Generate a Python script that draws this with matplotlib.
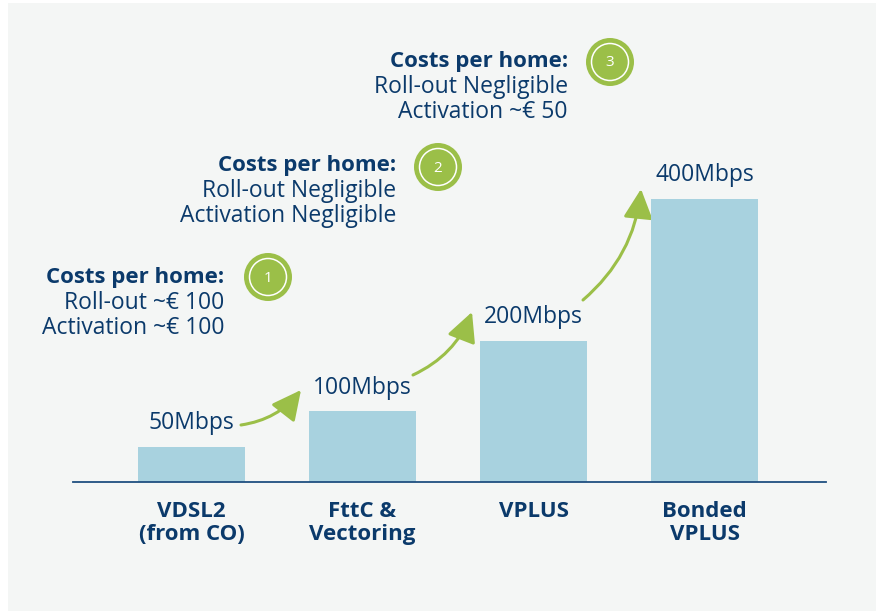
import numpy as np
import matplotlib
matplotlib.use('Agg')
import matplotlib.pyplot as plt
from matplotlib.patches import Circle, FancyArrowPatch, Rectangle

# data
categories = ['VDSL2\n(from CO)', 'FttC &\nVectoring', 'VPLUS', 'Bonded\nVPLUS']
speeds = [50, 100, 200, 400]
speed_labels = ['50Mbps', '100Mbps', '200Mbps', '400Mbps']
cost_steps = ['1', '2', '3']
rollout_costs = ['~€ 100', 'Negligible', 'Negligible']
activation_costs = ['~€ 100', 'Negligible', '~€ 50']

navy = '#0b3a6b'
bar_col = '#a8d2df'
green = '#9bbf48'
panel = '#f4f6f5'
plt.rcParams['font.family'] = ['Open Sans', 'DejaVu Sans']

W, H = 876, 611
fig = plt.figure(figsize=(W / 100, H / 100), dpi=100)
fig.patch.set_facecolor('white')

# overlay in pixel coordinates (y down)
ov = fig.add_axes([0, 0, 1, 1])
ov.set_xlim(0, W)
ov.set_ylim(H, 0)
ov.axis('off')
ov.add_patch(Rectangle((8, 3), W, H, facecolor=panel, edgecolor='none', zorder=0))

# bar axes
ax = fig.add_axes([73 / W, (H - 482) / H, (826 - 73) / W, 442 / H])
ax.patch.set_alpha(0)
x = np.arange(len(speeds))
ax.bar(x, speeds, width=0.626, color=bar_col, zorder=2)
ax.set_xlim(-0.693, 3.7105)
ax.set_ylim(0, 400 * 442 / 283)
for s in ['top', 'right', 'left']:
    ax.spines[s].set_visible(False)
ax.spines['bottom'].set_color('#1f4f80')
ax.spines['bottom'].set_linewidth(1.3)
ax.set_yticks([])
ax.set_xticks(x)
ax.set_xticklabels(categories, fontsize=16, fontweight='bold', color=navy, linespacing=1.12)
ax.tick_params(axis='x', length=0, pad=14)

for xi, v, lab in zip(x, speeds, speed_labels):
    ax.annotate(lab, (xi, v), xytext=(0, 17), textcoords='offset points',
                ha='center', va='center', fontsize=16.5, color=navy)

# cost blocks (pixel positions)
block_right = [224, 396, 568]
block_top = [278, 166, 62]
circle_pos = [(268, 277), (438, 167), (610, 62)]
for i in range(3):
    xr, yt = block_right[i], block_top[i]
    ov.text(xr, yt, 'Costs per home:', ha='right', va='center', fontsize=16,
            fontweight='bold', color=navy)
    ov.text(xr, yt + 25, 'Roll-out ' + rollout_costs[i], ha='right', va='center',
            fontsize=16.5, color=navy)
    ov.text(xr, yt + 50, 'Activation ' + activation_costs[i], ha='right', va='center',
            fontsize=16.5, color=navy)
    cx, cy = circle_pos[i]
    ov.add_patch(Circle((cx, cy), 24, facecolor=green, edgecolor='none', zorder=3))
    ov.add_patch(Circle((cx, cy), 18.5, facecolor='none', edgecolor='white', lw=1.1, zorder=4))
    ov.text(cx, cy + 1, cost_steps[i], ha='center', va='center', fontsize=11,
            color='white', zorder=5)

# growth arrows
arrows = [((241, 425), (301, 390)), ((413, 375), (472, 312)), ((583, 300), (641, 189))]
for a, b in arrows:
    ov.add_patch(FancyArrowPatch(a, b, connectionstyle='arc3,rad=0.2',
                                 arrowstyle='-|>,head_length=1.5,head_width=0.75',
                                 mutation_scale=12, color=green, lw=2.2,
                                 shrinkA=0, shrinkB=0, zorder=3))

fig.savefig('out.png', dpi=100)
